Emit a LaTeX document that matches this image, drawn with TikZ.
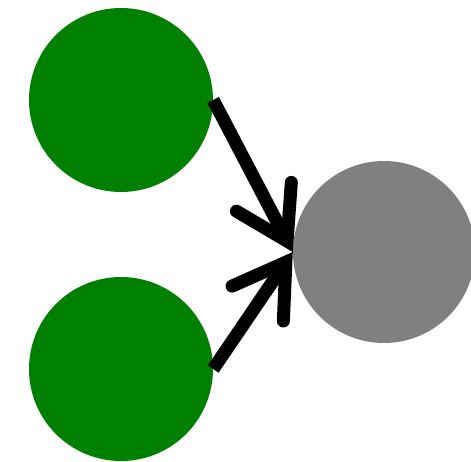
\documentclass[tikz,border=0pt]{standalone}
\usetikzlibrary{arrows.meta}
\begin{document}
\begin{tikzpicture}[>={Straight Barb[length=50pt,width=62pt,line cap=round,line join=miter]},
    ball/.style={circle,inner sep=0pt,minimum size=184pt}]
    \useasboundingbox (0pt,0pt) rectangle (471pt,461pt);
    \node[ball,fill=green!50!black] (A) at (121pt,361pt) {};
    \node[ball,fill=green!50!black] (B) at (121pt,92pt) {};
    \node[ball,fill=gray,minimum size=182pt] (C) at (384pt,209pt) {};
    \draw[->,line width=13pt] (A.east) -- (C.west);
    \draw[->,line width=13pt] (B.east) -- (C.west);
\end{tikzpicture}
\end{document}
